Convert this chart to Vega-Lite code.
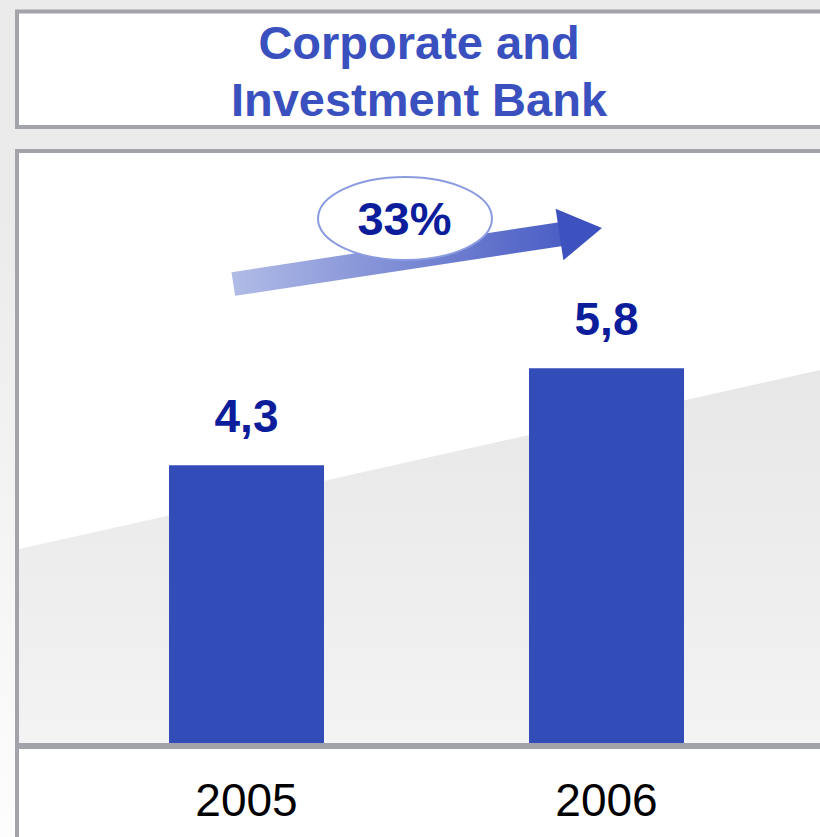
{
  "$schema": "https://vega.github.io/schema/vega-lite/v6.json",
  "width": 820,
  "height": 837,
  "autosize": {"type": "none"},
  "padding": 0,
  "background": "#ebebeb",
  "config": {
    "view": {"stroke": null},
    "font": "Liberation Sans",
    "locale": {"number": {"decimal": ",", "thousands": ".", "grouping": [3], "currency": ["", " €"]}}
  },
  "data": {"values": [
    {"year": 2005, "value": 4.3},
    {"year": 2006, "value": 5.8}
  ]},
  "layer": [
    {
      "data": {"values": [{}]},
      "mark": {"type": "rect", "fill": {"gradient": "linear", "x1": 0, "y1": 0, "x2": 0, "y2": 1, "stops": [{"offset": 0, "color": "#ebebeb"}, {"offset": 0.25, "color": "#ebebeb"}, {"offset": 1, "color": "#fdfdfd"}]}},
      "encoding": {
        "x": {"datum": 2004.315278, "type": "quantitative", "axis": null},
        "x2": {"datum": 2006.593056},
        "y": {"datum": 11.5, "type": "quantitative", "axis": null},
        "y2": {"datum": -1.455}
      }
    },
    {
      "data": {"values": [{}]},
      "mark": {"type": "rect", "fill": "white", "stroke": "#a3a3ac", "strokeWidth": 4},
      "encoding": {
        "x": {"datum": 2004.3625, "type": "quantitative", "axis": null},
        "x2": {"datum": 2006.65},
        "y": {"datum": 11.3221, "type": "quantitative", "axis": null},
        "y2": {"datum": 9.5344}
      }
    },
    {
      "data": {"values": [{}]},
      "mark": {"type": "rect", "fill": "white", "stroke": "#a3a3ac", "strokeWidth": 4},
      "encoding": {
        "x": {"datum": 2004.3625, "type": "quantitative", "axis": null},
        "x2": {"datum": 2006.65},
        "y": {"datum": 9.1629, "type": "quantitative", "axis": null},
        "y2": {"datum": -1.811}
      }
    },
    {
      "data": {"values": [{}]},
      "mark": {
        "type": "point",
        "shape": "M -1 -0.0187 L 1 -0.4657 L 1 0.4657 L -1 0.4657 Z",
        "size": 641601,
        "filled": true,
        "opacity": 1,
        "strokeOpacity": 0,
        "fill": {"gradient": "linear", "x1": 0, "y1": 0, "x2": 0, "y2": 1, "stops": [{"offset": 0, "color": "#e7e7e7"}, {"offset": 1, "color": "#f3f3f3"}]}
      },
      "encoding": {
        "x": {"datum": 2005.480556, "type": "quantitative", "axis": null},
        "y": {"datum": 2.8866, "type": "quantitative", "axis": null}
      }
    },
    {
      "data": {"values": [{}]},
      "mark": {"type": "rule", "color": "#a3a3ac", "strokeWidth": 6},
      "encoding": {
        "x": {"datum": 2004.3625, "type": "quantitative", "axis": null},
        "x2": {"datum": 2006.65},
        "y": {"datum": -0.0464, "type": "quantitative", "axis": null}
      }
    },
    {
      "mark": {"type": "bar", "width": 155, "color": "#334db8"},
      "encoding": {
        "x": {
          "field": "year", "type": "quantitative",
          "scale": {"domain": [2004.315278, 2006.593056], "nice": false, "zero": false, "padding": 0},
          "axis": null
        },
        "y": {
          "field": "value", "type": "quantitative",
          "scale": {"domain": [-1.455, 11.5], "nice": false, "zero": false, "padding": 0},
          "axis": null
        }
      }
    },
    {
      "mark": {"type": "text", "fontSize": 46, "fontWeight": "bold", "color": "#0b1d9b", "baseline": "alphabetic", "align": "center", "dy": -33},
      "encoding": {
        "x": {"field": "year", "type": "quantitative", "axis": null},
        "y": {"field": "value", "type": "quantitative", "axis": null},
        "text": {"field": "value", "type": "quantitative", "format": ".1f"}
      }
    },
    {
      "mark": {"type": "text", "fontSize": 46, "fontWeight": "normal", "color": "#000000", "baseline": "alphabetic", "align": "center"},
      "encoding": {
        "x": {"field": "year", "type": "quantitative", "axis": null},
        "y": {"datum": -1.1299, "type": "quantitative", "axis": null},
        "text": {"field": "year", "type": "quantitative", "format": "d"}
      }
    },
    {
      "data": {"values": [{}]},
      "mark": {
        "type": "rule", "strokeWidth": 24, "strokeCap": "butt",
        "stroke": {"gradient": "linear", "x1": 0, "y1": 0, "x2": 1, "y2": 0, "stops": [{"offset": 0, "color": "#b0bbe6"}, {"offset": 1, "color": "#4a5dc4"}]}
      },
      "encoding": {
        "x": {"datum": 2004.963333, "type": "quantitative", "axis": null},
        "x2": {"datum": 2005.8875},
        "y": {"datum": 7.1044, "type": "quantitative", "axis": null},
        "y2": {"datum": 7.8876}
      }
    },
    {
      "data": {"values": [{}]},
      "mark": {"type": "point", "shape": "M -0.8 -1 L 0.85 0 L -0.8 1 Z", "size": 2704, "angle": -8.6, "filled": true, "opacity": 1, "strokeOpacity": 0, "fill": "#3d51bf"},
      "encoding": {
        "x": {"datum": 2005.926583, "type": "quantitative", "axis": null},
        "y": {"datum": 7.9188, "type": "quantitative", "axis": null}
      }
    },
    {
      "data": {"values": [{}]},
      "mark": {"type": "point", "shape": "M -1 0 A 1 0.477 0 1 1 1 0 A 1 0.477 0 1 1 -1 0 Z", "size": 30276, "filled": false, "opacity": 1, "fill": "white", "fillOpacity": 1, "stroke": "#8b9be0", "strokeWidth": 2},
      "encoding": {
        "x": {"datum": 2005.440278, "type": "quantitative", "axis": null},
        "y": {"datum": 8.1182, "type": "quantitative", "axis": null}
      }
    },
    {
      "data": {"values": [{"growth": 0.33}]},
      "mark": {"type": "text", "fontSize": 47, "fontWeight": "bold", "color": "#0b1d9b", "baseline": "alphabetic", "align": "center"},
      "encoding": {
        "x": {"datum": 2005.438889, "type": "quantitative", "axis": null},
        "y": {"datum": 7.8628, "type": "quantitative", "axis": null},
        "text": {"field": "growth", "type": "quantitative", "format": ".0%"}
      }
    },
    {
      "data": {"values": [{}]},
      "mark": {"type": "text", "text": ["Corporate and", "Investment Bank"], "fontSize": 47, "fontWeight": "bold", "color": "#3950be", "baseline": "alphabetic", "align": "center", "lineHeight": 57},
      "encoding": {
        "x": {"datum": 2005.479167, "type": "quantitative", "axis": null},
        "y": {"datum": 10.5823, "type": "quantitative", "axis": null}
      }
    }
  ]
}
